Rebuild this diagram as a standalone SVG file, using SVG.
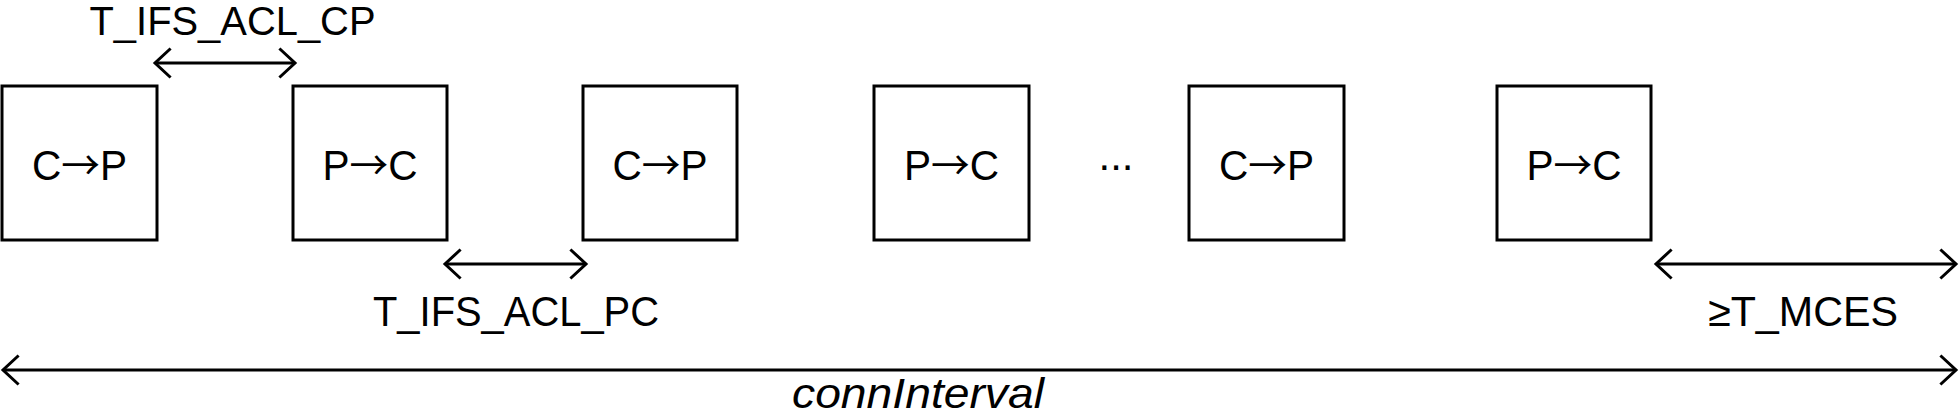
<svg xmlns="http://www.w3.org/2000/svg" width="1959" height="414" viewBox="0 0 1959 414">
<style>
.box{fill:#fff;stroke:#000;stroke-width:3}
.lbl{font-family:"Liberation Sans",Arial,sans-serif;font-size:42px;fill:#000;text-anchor:middle}
.ar{font-family:"Noto Sans CJK SC","DejaVu Sans",sans-serif;font-size:40px}
.it{font-style:italic}
.dim{stroke:#000;stroke-width:3;fill:none}
</style>
<defs>
<marker id="chev" markerUnits="userSpaceOnUse" viewBox="-20 -20 24 40" refX="0" refY="0" markerWidth="24" markerHeight="40" orient="auto-start-reverse">
<path d="M-15.6,-14.5 L0,0 L-15.6,14.5" fill="none" stroke="#000" stroke-width="3"/>
</marker>
</defs>
<rect width="1959" height="414" fill="#fff"/>
<g id="n1"><rect class="box" x="2" y="86" width="155" height="154"/><text class="lbl" x="79.5" y="180" textLength="95" lengthAdjust="spacingAndGlyphs">C<tspan class="ar">→</tspan>P</text></g>
<g id="n2"><rect class="box" x="293" y="86" width="154" height="154"/><text class="lbl" x="370" y="180" textLength="95" lengthAdjust="spacingAndGlyphs">P<tspan class="ar">→</tspan>C</text></g>
<g id="n3"><rect class="box" x="583" y="86" width="154" height="154"/><text class="lbl" x="660" y="180" textLength="95" lengthAdjust="spacingAndGlyphs">C<tspan class="ar">→</tspan>P</text></g>
<g id="n4"><rect class="box" x="874" y="86" width="155" height="154"/><text class="lbl" x="951.5" y="180" textLength="95" lengthAdjust="spacingAndGlyphs">P<tspan class="ar">→</tspan>C</text></g>
<g id="dots"><text class="lbl" x="1116" y="170">...</text></g>
<g id="n5"><rect class="box" x="1189" y="86" width="155" height="154"/><text class="lbl" x="1266.5" y="180" textLength="95" lengthAdjust="spacingAndGlyphs">C<tspan class="ar">→</tspan>P</text></g>
<g id="n6"><rect class="box" x="1497" y="86" width="154" height="154"/><text class="lbl" x="1574" y="180" textLength="95" lengthAdjust="spacingAndGlyphs">P<tspan class="ar">→</tspan>C</text></g>
<g id="connectors">
<line class="dim" x1="155" y1="63" x2="295" y2="63" marker-start="url(#chev)" marker-end="url(#chev)"/>
<line class="dim" x1="445" y1="264" x2="586" y2="264" marker-start="url(#chev)" marker-end="url(#chev)"/>
<line class="dim" x1="1656" y1="264" x2="1956" y2="264" marker-start="url(#chev)" marker-end="url(#chev)"/>
<line class="dim" x1="3" y1="370" x2="1956" y2="370" marker-start="url(#chev)" marker-end="url(#chev)"/>
</g>
<g id="labels">
<text class="lbl" x="232.5" y="35" style="font-size:40px" textLength="286" lengthAdjust="spacingAndGlyphs">T_IFS_ACL_CP</text>
<text class="lbl" x="516" y="326" textLength="286" lengthAdjust="spacingAndGlyphs">T_IFS_ACL_PC</text>
<text class="lbl" x="1803" y="326" textLength="190" lengthAdjust="spacingAndGlyphs">≥T_MCES</text>
<text class="lbl it" x="918" y="408" textLength="252" lengthAdjust="spacingAndGlyphs">connInterval</text>
</g>
</svg>
